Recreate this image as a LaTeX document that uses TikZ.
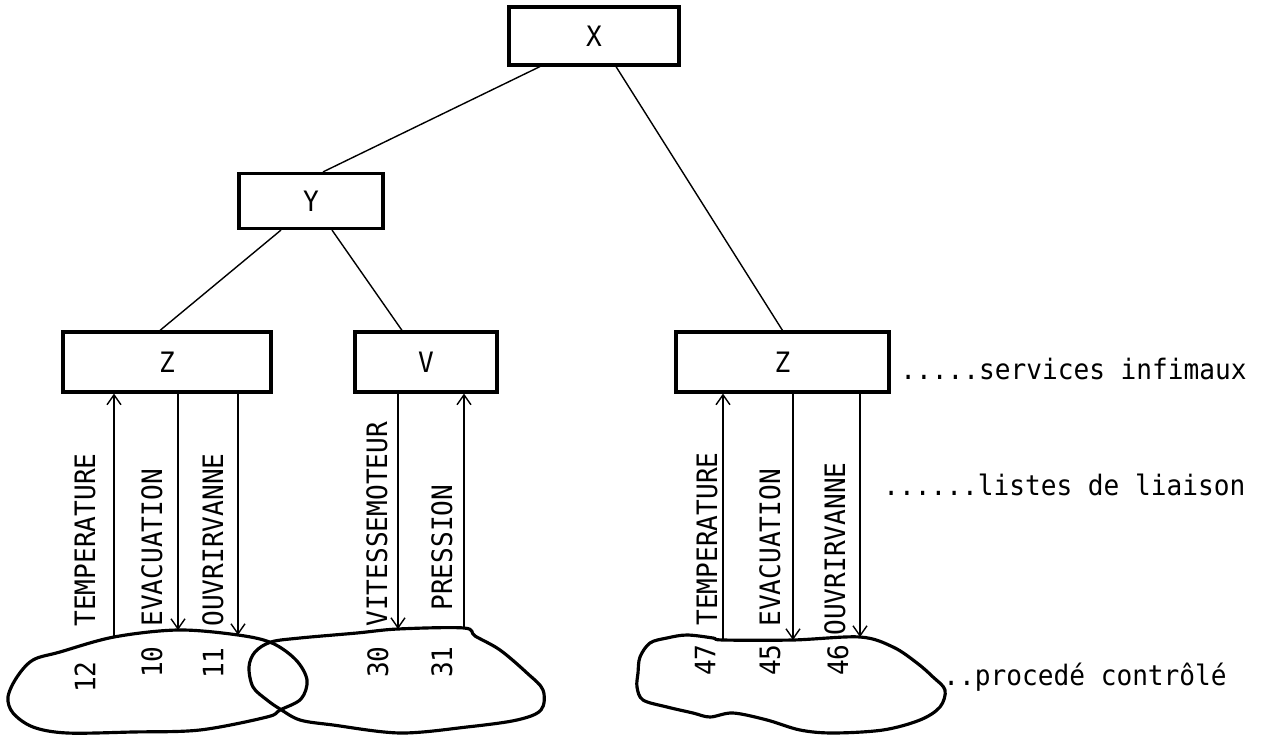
\documentclass[tikz,border=0pt]{standalone}
\usepackage{fontspec}
\setmainfont{DejaVu Sans Mono}[FakeStretch=0.93]
\usetikzlibrary{arrows.meta,positioning,calc}

\begin{document}
\begin{tikzpicture}[
    every node/.style={font=\fontsize{16pt}{18pt}\selectfont},
    box/.style={draw,line width=1.8pt,minimum height=1.2cm,inner sep=0pt},
    link/.style={line width=0.8pt},
    arr/.style={-{Straight Barb[length=2mm,width=2.8mm]},line width=0.8pt},
    sig/.style={rotate=90,anchor=west,inner sep=0pt},
    num/.style={rotate=90,inner sep=0pt},
    note/.style={anchor=base west,inner sep=0pt},
    blob/.style={line width=1.8pt,line join=round}
  ]
    \useasboundingbox (0,0) rectangle (25.3,14.74);
    % services
    \node[box,minimum width=3.4cm,minimum height=1.16cm] (svcX) at (11.88,14.02) {X};
    \node[box,minimum width=2.88cm,minimum height=1.1cm] (svcY) at (6.22,10.72) {Y};
    \node[box,minimum width=4.16cm] (svcZa) at (3.34,7.5) {Z};
    \node[box,minimum width=2.84cm] (svcV) at (8.52,7.5) {V};
    \node[box,minimum width=4.26cm] (svcZb) at (15.65,7.5) {Z};
    \draw[link] ([xshift=-1.08cm]svcX.south) -- ([xshift=0.24cm]svcY.north);
    \draw[link] ([xshift=0.44cm]svcX.south) -- (svcZb.north);
    \draw[link] ([xshift=-0.6cm]svcY.south) -- ([xshift=-0.14cm]svcZa.north);
    \draw[link] ([xshift=0.42cm]svcY.south) -- ([xshift=-0.48cm]svcV.north);
    % points on the process
    \coordinate (tempA) at (2.28,2.00);
    \coordinate (evacA) at (3.56,2.14);
    \coordinate (vanneA) at (4.76,2.04);
    \coordinate (vit) at (7.96,2.16);
    \coordinate (press) at (9.28,2.18);
    \coordinate (tempB) at (14.46,1.94);
    \coordinate (evacB) at (15.86,1.94);
    \coordinate (vanneB) at (17.20,2.00);
    % liaison lists
    \draw[arr] (tempA) -- (tempA |- svcZa.south);
    \draw[arr] (evacA |- svcZa.south) -- (evacA);
    \draw[arr] (vanneA |- svcZa.south) -- (vanneA);
    \draw[arr] (vit |- svcV.south) -- (vit);
    \draw[arr] (press) -- (press |- svcV.south);
    \draw[arr] (tempB) -- (tempB |- svcZb.south);
    \draw[arr] (evacB |- svcZb.south) -- (evacB);
    \draw[arr] (vanneB |- svcZb.south) -- (vanneB);
    \node[sig] (lTempA) at (1.70,2.20) {TEMPERATURE};
    \node[sig] (lEvacA) at (3.04,2.20) {EVACUATION};
    \node[sig] (lVanneA) at (4.26,2.20) {OUVRIRVANNE};
    \node[sig] (lVit) at (7.54,2.20) {VITESSEMOTEUR};
    \node[sig] (lPress) at (8.84,2.52) {PRESSION};
    \node[sig] (lTempB) at (14.14,2.22) {TEMPERATURE};
    \node[sig] (lEvacB) at (15.40,2.20) {EVACUATION};
    \node[sig] (lVanneB) at (16.70,2.02) {OUVRIRVANNE};
    % controlled process
    \draw[blob] plot[smooth cycle,tension=0.55] coordinates {(tempA) (evacA) (vanneA)
      (5.44,1.88) (5.92,1.54) (6.14,1.14) (6.02,0.76) (5.60,0.54) (5.34,0.40)
      (4.00,0.14) (2.66,0.10) (1.34,0.08) (0.66,0.20) (0.26,0.48) (0.16,0.80)
      (0.34,1.20) (0.66,1.54) (1.20,1.70)};
    \draw[blob] plot[smooth cycle,tension=0.55] coordinates {(5.42,1.90) (6.00,1.98)
      (7.14,2.08) (vit) (press) (9.50,2.02) (10.00,1.74) (10.54,1.28) (10.86,0.94)
      (10.82,0.54) (10.34,0.34) (9.34,0.20) (8.00,0.08) (6.66,0.24) (6.00,0.34)
      (5.60,0.56) (5.34,0.74) (5.06,1.00) (4.98,1.40) (5.10,1.70)};
    \draw[blob] plot[smooth cycle,tension=0.55] coordinates {(tempB) (evacB) (vanneB)
      (17.86,1.80) (18.34,1.48) (18.66,1.20) (18.90,0.94) (18.80,0.60) (18.40,0.34)
      (17.66,0.14) (16.66,0.08) (16.00,0.14) (15.34,0.34) (14.66,0.48) (14.20,0.40)
      (13.86,0.48) (13.34,0.60) (12.86,0.74) (12.74,1.00) (12.76,1.28) (12.80,1.60)
      (13.00,1.88) (13.34,1.98) (13.74,2.04) (14.26,1.98)};
    \node[num] (nTempA) at (1.70,1.20) {12};
    \node[num] (nEvacA) at (3.04,1.50) {10};
    \node[num] (nVanneA) at (4.26,1.48) {11};
    \node[num] (nVit) at (7.56,1.50) {30};
    \node[num] (nPress) at (8.84,1.50) {31};
    \node[num] (nTempB) at (14.10,1.54) {47};
    \node[num] (nEvacB) at (15.40,1.54) {45};
    \node[num] (nVanneB) at (16.76,1.54) {46};
    % levels
    \node[note] (lvlSvc) at (18.00,7.14) {.....services infimaux};
    \node[note] (lvlList) at (17.66,4.84) {......listes de liaison};
    \node[note] (lvlProc) at (18.86,1.04) {..procedé contrôlé};
  \end{tikzpicture}
\end{document}
